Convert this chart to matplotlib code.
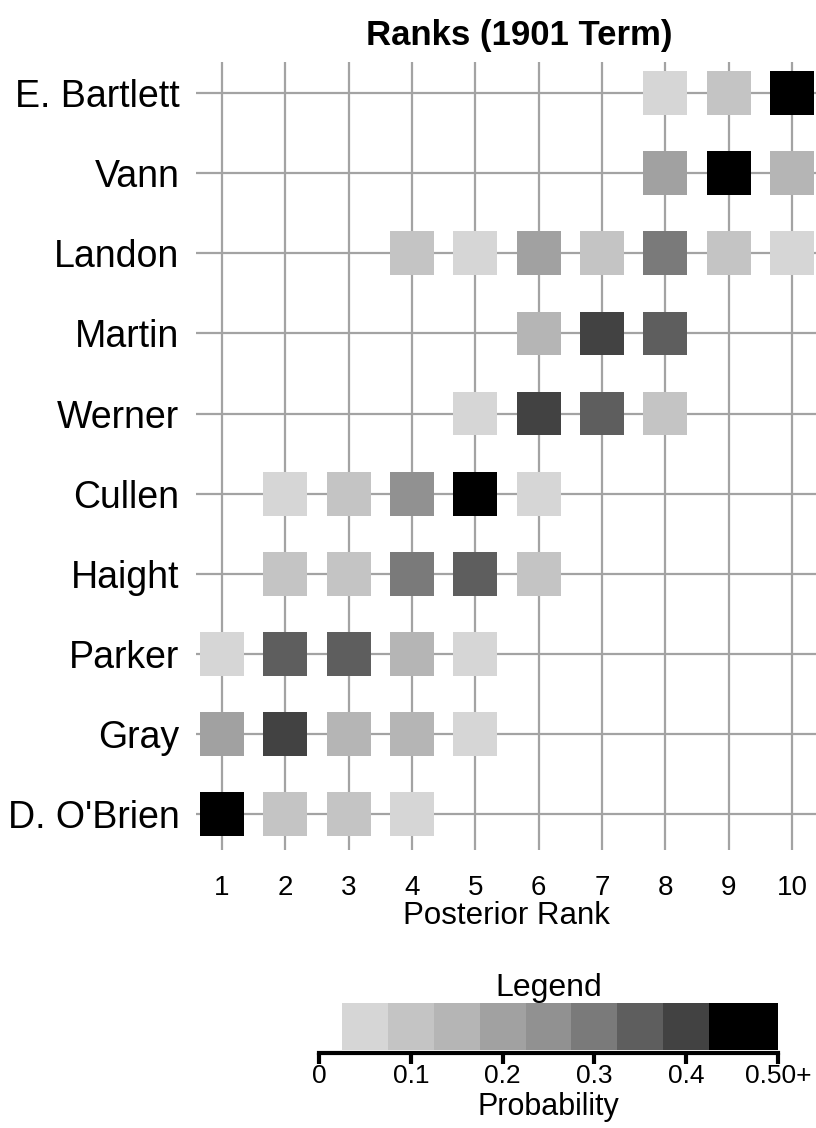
import numpy as np
import matplotlib
matplotlib.use("Agg")
import matplotlib.pyplot as plt
from matplotlib.patches import Rectangle

plt.rcParams['font.family'] = ['Liberation Sans', 'DejaVu Sans']

# candidates, top row first
names = ["E. Bartlett", "Vann", "Landon", "Martin", "Werner",
         "Cullen", "Haight", "Parker", "Gray", "D. O'Brien"]
ranks = [1, 2, 3, 4, 5, 6, 7, 8, 9, 10]

# posterior probability of each rank (columns = rank 1..10), 0 = not drawn
probs = [
    [0, 0, 0, 0, 0, 0, 0, 0.05, 0.10, 0.60],
    [0, 0, 0, 0, 0, 0, 0, 0.20, 0.55, 0.15],
    [0, 0, 0, 0.08, 0.05, 0.22, 0.10, 0.32, 0.10, 0.05],
    [0, 0, 0, 0, 0, 0.15, 0.40, 0.35, 0, 0],
    [0, 0, 0, 0, 0.05, 0.40, 0.35, 0.12, 0, 0],
    [0, 0.05, 0.12, 0.27, 0.50, 0.05, 0, 0, 0, 0],
    [0, 0.10, 0.12, 0.30, 0.33, 0.08, 0, 0, 0, 0],
    [0.05, 0.37, 0.35, 0.17, 0.05, 0, 0, 0, 0, 0],
    [0.20, 0.40, 0.17, 0.15, 0.05, 0, 0, 0, 0, 0],
    [0.60, 0.12, 0.10, 0.05, 0, 0, 0, 0, 0, 0],
]

# legend bins and their grey shades
bin_edges = [0.025, 0.075, 0.125, 0.175, 0.225, 0.275, 0.325, 0.375, 0.425, 0.5]
bin_greys = [0.84, 0.77, 0.71, 0.63, 0.57, 0.48, 0.37, 0.26, 0.0]
legend_ticks = [0, 0.1, 0.2, 0.3, 0.4, 0.5]
legend_ticklabels = ["0", "0.1", "0.2", "0.3", "0.4", "0.50+"]


def grey_for(p):
    i = np.searchsorted(bin_edges, p, side="right") - 1
    i = min(max(i, 0), len(bin_greys) - 1)
    return str(bin_greys[i])


W, H = 816, 1128
fig = plt.figure(figsize=(W / 100, H / 100), dpi=100)

# main grid
ax = fig.add_axes([196 / W, 1 - 850 / H, (816 - 196) / W, (850 - 62) / H])
ax.set_xlim(0.589, 10.38)
ax.set_ylim(0.55, 10.39)

ny = len(names)
ypos = [ny - i for i in range(ny)]
for x in ranks:
    ax.axvline(x, color="0.64", lw=1.6, zorder=1)
for y in ypos:
    ax.axhline(y, color="0.64", lw=1.6, zorder=1)

sw, sh = 0.695, 0.548
for i, row in enumerate(probs):
    for j, p in enumerate(row):
        if p <= 0:
            continue
        ax.add_patch(Rectangle((ranks[j] - sw / 2, ypos[i] - sh / 2), sw, sh,
                               facecolor=grey_for(p), edgecolor="none", zorder=2))

ax.set_xticks(ranks)
ax.set_xticklabels([str(r) for r in ranks], fontsize=20)
ax.set_yticks(ypos)
ax.set_yticklabels(names, fontsize=27)
ax.tick_params(axis="both", length=0)
ax.tick_params(axis="y", pad=12)
ax.tick_params(axis="x", pad=18)
ax.set_xlabel("Posterior Rank", fontsize=22.5, labelpad=0)
for s in ax.spines.values():
    s.set_visible(False)

fig.text(519 / W, 1 - 35 / H, "Ranks (1901 Term)", fontsize=25,
         fontweight="bold", ha="center", va="center")

# legend bar
cax = fig.add_axes([319 / W, 1 - 1053 / H, (778 - 319) / W, (1053 - 1003) / H])
cax.set_xlim(0, 0.5)
cax.set_ylim(0, 1)
for k in range(len(bin_greys)):
    cax.bar(bin_edges[k], 0.94, width=bin_edges[k + 1] - bin_edges[k],
            bottom=0.06, align="edge", color=str(bin_greys[k]), linewidth=0)
for s in ["top", "left", "right"]:
    cax.spines[s].set_visible(False)
cax.spines["bottom"].set_linewidth(3)
cax.set_yticks([])
cax.set_xticks(legend_ticks)
cax.set_xticklabels(legend_ticklabels, fontsize=19)
cax.tick_params(axis="x", length=8, width=3, pad=0)
cax.set_title("Legend", fontsize=23, pad=3)
cax.set_xlabel("Probability", fontsize=22, labelpad=3)

fig.savefig("out.png", dpi=100)
